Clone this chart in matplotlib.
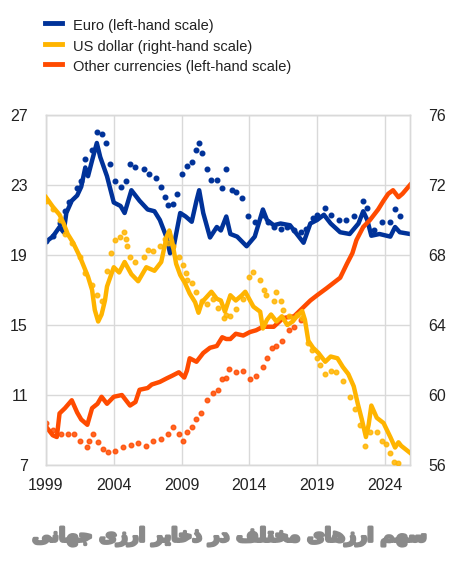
import matplotlib
matplotlib.use("Agg")
import matplotlib.pyplot as plt
import matplotlib.patheffects as pe
from matplotlib.lines import Line2D

plt.rcParams["font.family"] = ["Liberation Sans", "DejaVu Sans"]

# ---- data ----
euro_years = [1999.0, 1999.5, 2000.0, 2000.3, 2000.5, 2000.9, 2001.3, 2001.6, 2001.9, 2002.1,
              2002.4, 2002.75, 2003.0, 2003.5, 2004.0, 2004.5, 2004.8, 2005.3, 2005.9, 2006.5,
              2007.0, 2007.4, 2007.9, 2008.15, 2008.4, 2008.9, 2009.3, 2009.75, 2010.1, 2010.3,
              2010.6, 2011.1, 2011.6, 2011.9, 2012.3, 2012.6, 2013.1, 2013.8, 2014.4, 2015.0,
              2015.3, 2015.8, 2016.3, 2017.0, 2017.5, 2018.0, 2018.5, 2019.0, 2019.5, 2020.0,
              2020.7, 2021.4, 2022.05, 2022.4, 2022.7, 2023.0, 2023.6, 2024.4, 2024.75, 2025.1,
              2025.85]
euro_vals = [19.76, 20.05, 20.6, 20.3, 21.4, 22.1, 22.4, 22.9, 24.0, 23.5,
             24.4, 25.4, 24.6, 23.5, 22.0, 21.8, 21.4, 22.7, 22.1, 21.6,
             21.5, 21.0, 20.0, 19.1, 19.4, 21.4, 21.2, 20.9, 22.1, 22.7,
             21.4, 20.0, 20.6, 20.4, 21.2, 20.2, 20.05, 19.5, 20.05, 21.6,
             21.0, 20.7, 20.8, 20.7, 20.2, 19.7, 20.8, 21.0, 21.3, 20.8,
             20.3, 20.2, 20.8, 21.5, 21.0, 20.1, 20.2, 20.05, 20.6, 20.3,
             20.2]

euro_const_years = [1999.0, 1999.5, 2000.0, 2000.4, 2000.7, 2001.3, 2001.6, 2001.9, 2002.4, 2002.75,
                    2003.1, 2003.4, 2003.7, 2004.1, 2004.5, 2004.9, 2005.2, 2005.6, 2006.2, 2006.6,
                    2007.1, 2007.5, 2007.8, 2008.0, 2008.4, 2008.65, 2009.0, 2009.4, 2009.75, 2010.1,
                    2010.3, 2010.5, 2010.85, 2011.2, 2011.6, 2012.0, 2012.3, 2012.7, 2013.0, 2013.45,
                    2013.9, 2014.4, 2015.0, 2015.4, 2015.8, 2016.3, 2016.8, 2017.3, 2017.8, 2018.2,
                    2018.7, 2019.0, 2019.6, 2020.0, 2020.6, 2021.1, 2021.7, 2022.4, 2022.7, 2023.2,
                    2023.8, 2024.4, 2024.75, 2025.1]
euro_const_vals = [19.8, 20.1, 20.8, 21.5, 22.0, 22.8, 23.2, 24.5, 25.0, 26.05,
                   25.9, 25.4, 24.2, 23.2, 22.9, 23.2, 24.2, 24.0, 23.9, 23.6,
                   23.4, 22.9, 22.3, 21.85, 21.9, 22.5, 23.6, 24.1, 24.3, 25.0,
                   25.4, 24.8, 23.9, 23.3, 23.3, 22.8, 23.9, 22.7, 22.6, 22.25,
                   21.2, 20.9, 21.3, 20.9, 20.6, 20.5, 20.6, 20.4, 20.3, 20.5,
                   21.1, 21.3, 21.7, 21.3, 21.0, 21.0, 21.2, 22.1, 21.7, 20.4,
                   20.9, 20.9, 21.6, 21.2]

usd_years = [1999.0, 1999.5, 2000.0, 2000.3, 2000.6, 2001.0, 2001.5, 2002.1, 2002.4, 2002.6,
             2002.85, 2003.1, 2003.35, 2003.5, 2004.0, 2004.4, 2004.8, 2005.3, 2005.8, 2006.4,
             2007.0, 2007.5, 2007.9, 2008.1, 2008.3, 2008.6, 2008.9, 2009.25, 2009.6, 2010.0,
             2010.25, 2010.5, 2010.85, 2011.2, 2011.6, 2011.9, 2012.2, 2012.6, 2013.0, 2013.45,
             2013.7, 2014.3, 2014.8, 2015.0, 2015.3, 2015.6, 2016.0, 2016.4, 2016.8, 2017.2,
             2017.5, 2017.9, 2018.1, 2018.35, 2018.7, 2019.1, 2019.6, 2020.0, 2020.5, 2020.9,
             2021.3, 2021.7, 2022.0, 2022.3, 2022.6, 2022.8, 2023.0, 2023.4, 2023.9, 2024.4,
             2024.75, 2025.0, 2025.2, 2025.85]
usd_vals = [71.3, 70.76, 70.3, 69.8, 69.2, 68.7, 67.9, 66.76, 66.0, 64.86,
            64.2, 64.6, 65.4, 66.2, 67.3, 67.0, 67.6, 66.9, 66.5, 67.3,
            67.1, 67.6, 69.05, 69.4, 68.8, 67.5, 66.86, 66.4, 65.8, 65.3,
            64.7, 65.3, 65.6, 65.9, 65.5, 65.4, 64.76, 65.7, 65.4, 65.7,
            65.9, 65.05, 64.76, 63.8, 64.3, 64.6, 64.2, 64.5, 64.0, 64.2,
            64.5, 64.8, 64.3, 63.1, 62.7, 62.4, 61.9, 62.2, 62.1, 61.6,
            61.2, 60.5, 59.5, 58.6, 57.6, 58.3, 59.4, 58.7, 58.4, 57.6,
            57.0, 57.3, 57.1, 56.7]

usd_const_years = [1999.0, 1999.5, 2000.0, 2000.4, 2000.9, 2001.5, 2001.9, 2002.4, 2002.75, 2003.1,
                   2003.5, 2003.8, 2004.1, 2004.45, 2004.75, 2004.9, 2005.0, 2005.2, 2005.6, 2006.2,
                   2006.5, 2006.9, 2007.4, 2007.75, 2008.0, 2008.4, 2008.8, 2009.1, 2009.3, 2009.4,
                   2009.75, 2010.1, 2010.5, 2010.9, 2011.3, 2011.7, 2012.1, 2012.3, 2012.6, 2013.0,
                   2013.5, 2013.95, 2014.3, 2014.8, 2015.1, 2015.2, 2015.8, 2016.0, 2016.3, 2016.5,
                   2016.9, 2017.2, 2017.5, 2017.9, 2018.3, 2018.6, 2019.0, 2019.2, 2019.6, 2020.0,
                   2020.4, 2020.9, 2021.4, 2021.8, 2022.2, 2022.55, 2022.9, 2023.4, 2023.8, 2024.1,
                   2024.4, 2024.7, 2025.0]
usd_const_vals = [71.1, 70.6, 70.0, 69.2, 68.7, 67.9, 66.95, 66.3, 65.7, 65.4,
                  67.1, 68.1, 68.85, 69.05, 69.3, 68.9, 68.5, 67.9, 67.6, 67.9,
                  68.3, 68.2, 68.5, 68.9, 68.7, 68.5, 67.9, 67.4, 66.95, 66.6,
                  66.4, 65.9, 65.4, 65.2, 65.5, 65.0, 64.4, 64.6, 64.5, 64.9,
                  65.5, 66.76, 67.05, 66.6, 66.0, 65.7, 65.4, 65.9, 65.4, 64.86,
                  64.5, 64.4, 64.6, 64.4, 63.0, 62.6, 62.1, 61.7, 61.2, 61.4,
                  61.3, 60.8, 59.9, 59.2, 58.3, 57.1, 57.9, 57.9, 57.4, 57.2,
                  56.7, 56.2, 56.1]

other_years = [1999.0, 1999.5, 1999.8, 2000.0, 2000.4, 2000.9, 2001.3, 2001.6, 2002.05, 2002.4,
               2002.8, 2003.1, 2003.5, 2004.0, 2004.6, 2005.2, 2005.6, 2005.9, 2006.5, 2006.8,
               2007.4, 2007.9, 2008.3, 2008.8, 2009.2, 2009.4, 2009.6, 2010.1, 2010.6, 2011.1,
               2011.6, 2012.0, 2012.3, 2012.6, 2013.0, 2013.55, 2014.05, 2014.5, 2015.0, 2015.8,
               2016.5, 2017.3, 2017.9, 2018.5, 2019.0, 2019.7, 2020.7, 2021.2, 2021.6, 2021.9,
               2022.4, 2022.9, 2023.5, 2023.9, 2024.25, 2024.6, 2025.0, 2025.3, 2025.85]
other_vals = [9.2, 8.7, 8.6, 9.95, 10.25, 10.7, 10.0, 9.6, 9.3, 10.25,
              10.5, 10.9, 10.5, 10.9, 11.0, 10.4, 10.6, 11.3, 11.4, 11.6,
              11.75, 11.95, 12.1, 12.3, 12.0, 12.4, 13.1, 12.9, 13.4, 13.7,
              13.8, 14.3, 14.2, 14.2, 14.5, 14.4, 14.6, 14.7, 14.9, 14.9,
              15.4, 15.5, 15.95, 16.4, 16.7, 17.1, 17.7, 18.5, 19.1, 19.85,
              20.6, 21.0, 21.6, 22.1, 22.5, 22.7, 22.3, 22.5, 23.0]

other_const_years = [1999.0, 1999.5, 2000.1, 2000.6, 2001.1, 2001.5, 2002.0, 2002.2, 2002.5, 2002.85,
                     2003.2, 2003.6, 2004.1, 2004.7, 2005.3, 2005.8, 2006.4, 2006.9, 2007.5, 2008.0,
                     2008.4, 2008.8, 2009.1, 2009.4, 2009.75, 2010.1, 2010.4, 2010.85, 2011.35, 2011.7,
                     2012.0, 2012.3, 2012.5, 2013.0, 2013.55, 2014.05, 2014.5, 2015.0, 2015.3, 2015.65,
                     2016.0, 2016.4, 2016.9, 2017.3, 2017.8]
other_const_vals = [9.4, 9.0, 8.8, 8.8, 8.8, 8.4, 8.05, 8.4, 8.8, 8.3,
                    7.9, 7.75, 7.8, 8.05, 8.15, 8.25, 8.1, 8.35, 8.5, 8.8,
                    9.2, 8.8, 8.35, 8.9, 9.2, 9.65, 9.95, 10.7, 11.1, 11.3,
                    11.9, 12.0, 12.5, 12.3, 12.4, 11.9, 12.1, 12.6, 13.1, 13.7,
                    13.8, 14.1, 14.7, 14.9, 15.3]

left_ticks = [7, 11, 15, 19, 23, 27]
right_ticks = [56, 60, 64, 68, 72, 76]
year_ticks = [1999, 2004, 2009, 2014, 2019, 2024]

legend_labels = ["Euro (left-hand scale)", "US dollar (right-hand scale)",
                 "Other currencies (left-hand scale)"]

title_fa = "سهم ارزهای مختلف در ذخایر ارزی جهانی"
# contextual glyph forms, logical order (matplotlib does no Arabic shaping)
title_shaped = ("\uFEB3\uFEEC\uFEE2 "
                "\uFE8D\uFEAD\uFEAF\uFEEB\uFE8E\uFEEF "
                "\uFEE3\uFEA8\uFE98\uFEE0\uFED2 "
                "\uFEA9\uFEAD "
                "\uFEAB\uFEA7\uFE8E\uFEF3\uFEAE "
                "\uFE8D\uFEAD\uFEAF\uFEEF "
                "\uFE9F\uFEEC\uFE8E\uFEE7\uFEF0")

BLUE = "#003299"
YELLOW = "#FFB400"
ORANGE = "#FF4B00"
GRID = "#d9d9d9"
TXT = "#222222"
TITLE_GREY = "#8a8a8a"

fig = plt.figure(figsize=(4.59, 5.72), dpi=100)
ax = fig.add_axes([0.1002, 0.187, 0.793, 0.612])
ax2 = ax.twinx()

# left-hand scale
ax.plot(euro_years, euro_vals, color=BLUE, lw=3.2, solid_joinstyle="round", zorder=3)
ax.plot(euro_const_years, euro_const_vals, ls="none", marker="o", ms=3.3,
        color=BLUE, zorder=3)
ax.plot(other_years, other_vals, color=ORANGE, lw=3.2, solid_joinstyle="round", zorder=3)
ax.plot(other_const_years, other_const_vals, ls="none", marker="o", ms=3.3,
        color=ORANGE, alpha=0.85, zorder=3)

# right-hand scale
ax2.plot(usd_years, usd_vals, color=YELLOW, lw=3.2, solid_joinstyle="round", zorder=3)
ax2.plot(usd_const_years, usd_const_vals, ls="none", marker="o", ms=3.3,
         color=YELLOW, alpha=0.85, zorder=3)

ax.set_xlim(1999, 2025.85)
ax.set_ylim(7, 27)
ax2.set_ylim(56, 76)
ax.set_xticks(year_ticks)
ax.set_xticklabels([str(y) for y in year_ticks])
ax.set_yticks(left_ticks)
ax2.set_yticks(right_ticks)

ax.grid(True, color=GRID, lw=1, zorder=0)
ax.set_axisbelow(True)
for a in (ax, ax2):
    for s in a.spines.values():
        s.set_color(GRID)
        s.set_linewidth(1)
    a.tick_params(length=0, labelsize=11.5, labelcolor=TXT)
ax.tick_params(axis="y", pad=13)
ax2.tick_params(axis="y", pad=13)
ax.tick_params(axis="x", pad=9)

# legend drawn by hand at the top
for i, (lab, col) in enumerate(zip(legend_labels, [BLUE, YELLOW, ORANGE])):
    y = 1 - (23 + i * 20.5) / 572
    fig.add_artist(Line2D([45 / 459, 62 / 459], [y, y], color=col, lw=3.5,
                          transform=fig.transFigure))
    fig.text(73 / 459, y - 3 / 572, lab, fontsize=10.5, color=TXT, va="center", ha="left")

# Persian title (glyphs reversed for visual right-to-left order), thickened with a stroke
fig.text(0.5, 1 - 537 / 572, title_shaped[::-1], fontsize=13.8, fontweight="bold",
         color=TITLE_GREY, ha="center", va="center", family=["DejaVu Sans"],
         path_effects=[pe.withStroke(linewidth=2, foreground=TITLE_GREY)])

fig.savefig("out.png", dpi=100)
